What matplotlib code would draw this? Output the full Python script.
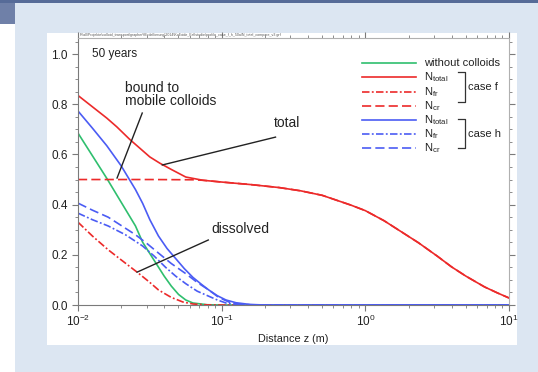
import numpy as np
import matplotlib
matplotlib.use("Agg")
import matplotlib.pyplot as plt
from matplotlib.patches import Rectangle
from matplotlib.ticker import MultipleLocator, LogLocator

plt.rcParams['font.family'] = ['Liberation Sans', 'DejaVu Sans']
plt.rcParams['mathtext.fontset'] = 'custom'
plt.rcParams['mathtext.rm'] = 'Liberation Sans'
plt.rcParams['mathtext.it'] = 'Liberation Sans:italic'
plt.rcParams['mathtext.bf'] = 'Liberation Sans:bold'

# data (log10 of distance, concentration)
green_lx = [-2, -1.9, -1.8, -1.7, -1.6, -1.55, -1.5, -1.45, -1.4, -1.35, -1.3, -1.25, -1.2, -1.1, -1.0, 1.0]
green_y = [0.685, 0.595, 0.505, 0.41, 0.315, 0.25, 0.205, 0.16, 0.115, 0.075, 0.042, 0.02, 0.008, 0.001, 0.0, 0.0]

red_tot_lx = [-2, -1.9, -1.8, -1.73, -1.64, -1.55, -1.5, -1.43, -1.35, -1.25, -1.13, -1.0, -0.8, -0.6,
              -0.45, -0.3, -0.1, 0.0, 0.13, 0.25, 0.37, 0.5, 0.6, 0.7, 0.83, 0.92, 1.0]
red_tot_y = [0.835, 0.79, 0.745, 0.71, 0.66, 0.615, 0.59, 0.565, 0.54, 0.51, 0.497, 0.49, 0.48, 0.468,
             0.455, 0.437, 0.398, 0.376, 0.336, 0.292, 0.248, 0.195, 0.152, 0.115, 0.072, 0.048, 0.028]

red_cr_lx = [-2, -1.5, -1.2, -1.13, -1.0, -0.8, -0.6, -0.45, -0.3, -0.1, 0.0, 0.13, 0.25, 0.37, 0.5,
             0.6, 0.7, 0.83, 0.92, 1.0]
red_cr_y = [0.5, 0.5, 0.499, 0.497, 0.49, 0.48, 0.468, 0.455, 0.437, 0.398, 0.376, 0.336, 0.292, 0.248, 0.195,
            0.152, 0.115, 0.072, 0.048, 0.028]

red_fr_lx = [-2, -1.9, -1.79, -1.7, -1.58, -1.5, -1.44, -1.35, -1.27, -1.2, -1.1, -1.0, 1.0]
red_fr_y = [0.33, 0.275, 0.22, 0.18, 0.127, 0.09, 0.06, 0.03, 0.012, 0.004, 0.0005, 0.0, 0.0]

blue_tot_lx = [-2, -1.9, -1.8, -1.7, -1.6, -1.55, -1.5, -1.44, -1.38, -1.32, -1.26, -1.2, -1.14, -1.09,
               -1.03, -0.97, -0.9, -0.8, -0.7, 1.0]
blue_tot_y = [0.773, 0.705, 0.635, 0.555, 0.46, 0.405, 0.34, 0.275, 0.225, 0.185, 0.145, 0.11, 0.082, 0.06,
              0.037, 0.02, 0.009, 0.002, 0.0, 0.0]

blue_cr_lx = [-2, -1.9, -1.79, -1.7, -1.6, -1.52, -1.44, -1.35, -1.25, -1.17, -1.09, -1.02, -0.95, -0.9,
              -0.8, -0.7, 1.0]
blue_cr_y = [0.406, 0.378, 0.35, 0.317, 0.28, 0.245, 0.207, 0.165, 0.125, 0.09, 0.06, 0.03, 0.012, 0.005,
             0.001, 0.0, 0.0]

blue_fr_lx = [-2, -1.9, -1.79, -1.67, -1.55, -1.47, -1.39, -1.32, -1.25, -1.17, -1.09, -1.03, -0.97, -0.9,
              -0.8, 1.0]
blue_fr_y = [0.366, 0.34, 0.315, 0.28, 0.235, 0.195, 0.15, 0.115, 0.085, 0.055, 0.035, 0.02, 0.008, 0.003,
             0.0, 0.0]

legend_labels = ['without colloids', r'N$_{\mathrm{total}}$', r'N$_{\mathrm{fr}}$', r'N$_{\mathrm{cr}}$',
                 r'N$_{\mathrm{total}}$', r'N$_{\mathrm{fr}}$', r'N$_{\mathrm{cr}}$']

GREEN = '#2fbf6e'
RED = '#ec2a2a'
BLUE = '#4b5cf4'
SOLID = '-'
DASH = (0, (5.5, 2.5))
DASHDOT = (0, (4.5, 1.4, 1.1, 1.4))

series = [(green_lx, green_y, GREEN, SOLID),
          (red_tot_lx, red_tot_y, RED, SOLID),
          (red_fr_lx, red_fr_y, RED, DASHDOT),
          (red_cr_lx, red_cr_y, RED, DASH),
          (blue_tot_lx, blue_tot_y, BLUE, SOLID),
          (blue_fr_lx, blue_fr_y, BLUE, DASHDOT),
          (blue_cr_lx, blue_cr_y, BLUE, DASH)]

fig = plt.figure(figsize=(5.38, 3.72), dpi=100)
fig.patch.set_facecolor('#dce6f2')

# slide decoration
deco = [((0, 0), 15 / 538, 1 - 24 / 372, 'white'),
        ((0, 1 - 24 / 372), 15 / 538, 24 / 372, '#6f80a8'),
        ((0, 1 - 3 / 372), 1, 3 / 372, '#566b98'),
        ((47 / 538, 1 - 345 / 372), 470 / 538, 312 / 372, 'white')]
for xy, w, hh, c in deco:
    fig.patches.append(Rectangle(xy, w, hh, transform=fig.transFigure,
                                 facecolor=c, edgecolor='none', zorder=-5))

ax = fig.add_axes([78 / 538, 1 - 305 / 372, 431 / 538, 267 / 372])
ax.set_facecolor('none')
ax.set_zorder(2)

lw = 1.2
for lx, yv, c, ls in series:
    ax.plot(10 ** np.array(lx), yv, color=c, lw=lw, linestyle=ls)

ax.set_xscale('log')
ax.set_xlim(0.01, 10)
ax.set_ylim(0, 1.064)
ax.yaxis.set_major_locator(MultipleLocator(0.2))
ax.yaxis.set_minor_locator(MultipleLocator(0.05))
ax.xaxis.set_major_locator(LogLocator(base=10, numticks=10))
ax.xaxis.set_minor_locator(LogLocator(base=10, subs=np.arange(2, 10), numticks=20))
ax.set_yticks(np.arange(0, 1.01, 0.2))
ax.set_yticklabels(['%.1f' % v for v in np.arange(0, 1.01, 0.2)])

for s in ['left', 'bottom']:
    ax.spines[s].set_color('#7a7a7a')
for s in ['top', 'right']:
    ax.spines[s].set_color('#b0b0b0')
ax.tick_params(which='both', direction='out', top=True, right=True, colors='#7a7a7a',
               labelcolor='#222222', labelsize=8.5)
ax.tick_params(which='major', length=4)
ax.tick_params(which='minor', length=2.5)
ax.tick_params(axis='x', pad=2)
ax.set_xlabel('Distance z (m)', fontsize=7.8, color='#222222', labelpad=4)

# legend drawn by hand to keep the brackets aligned
rows = [0.906, 0.853, 0.799, 0.745, 0.693, 0.640, 0.588]
for (lx, yv, c, ls), lab, yy in zip(series, legend_labels, rows):
    ax.plot([0.659, 0.784], [yy, yy], transform=ax.transAxes, color=c,
            lw=lw, linestyle=ls, clip_on=False)
    ax.text(0.803, yy, lab, transform=ax.transAxes, fontsize=8, va='center', ha='left', color='#222222')

for y0, y1, ym, lab in [(0.873, 0.760, 0.816, 'case f'), (0.697, 0.588, 0.640, 'case h')]:
    ax.plot([0.882, 0.898, 0.898, 0.882], [y0, y0, y1, y1], transform=ax.transAxes,
            color='#333333', lw=0.9)
    ax.text(0.906, ym, lab, transform=ax.transAxes, fontsize=8, va='center', ha='left', color='#222222')

# annotations
ax.text(0.0125, 1.0, '50 years', fontsize=8.5, va='center', ha='left', color='#222222')
ax.text(0.0213, 0.84, 'bound to\nmobile colloids', fontsize=10, va='center', ha='left',
        linespacing=0.9, color='#222222')
ax.text(0.283, 0.725, 'total', fontsize=10, va='center', ha='center', color='#222222')
ax.text(0.135, 0.303, 'dissolved', fontsize=10, va='center', ha='center', color='#222222')
ax.plot([0.028, 0.0187], [0.765, 0.506], color='#222222', lw=1.0)
ax.plot([0.237, 0.0386], [0.669, 0.558], color='#222222', lw=1.0)
ax.plot([0.0807, 0.0258], [0.259, 0.131], color='#222222', lw=1.0)

fig.text(80 / 538, 1 - 35 / 372,
         r'F:\all\Projekte\colloid_transport\grapher\Modellierung\2014\Kolloide_Fallstudie\profile_case_f_h_50a\N_total_compare_v3.grf',
         fontsize=2.6, color='#555555', va='center', ha='left')

fig.savefig('out.png', dpi=100, facecolor=fig.get_facecolor())
